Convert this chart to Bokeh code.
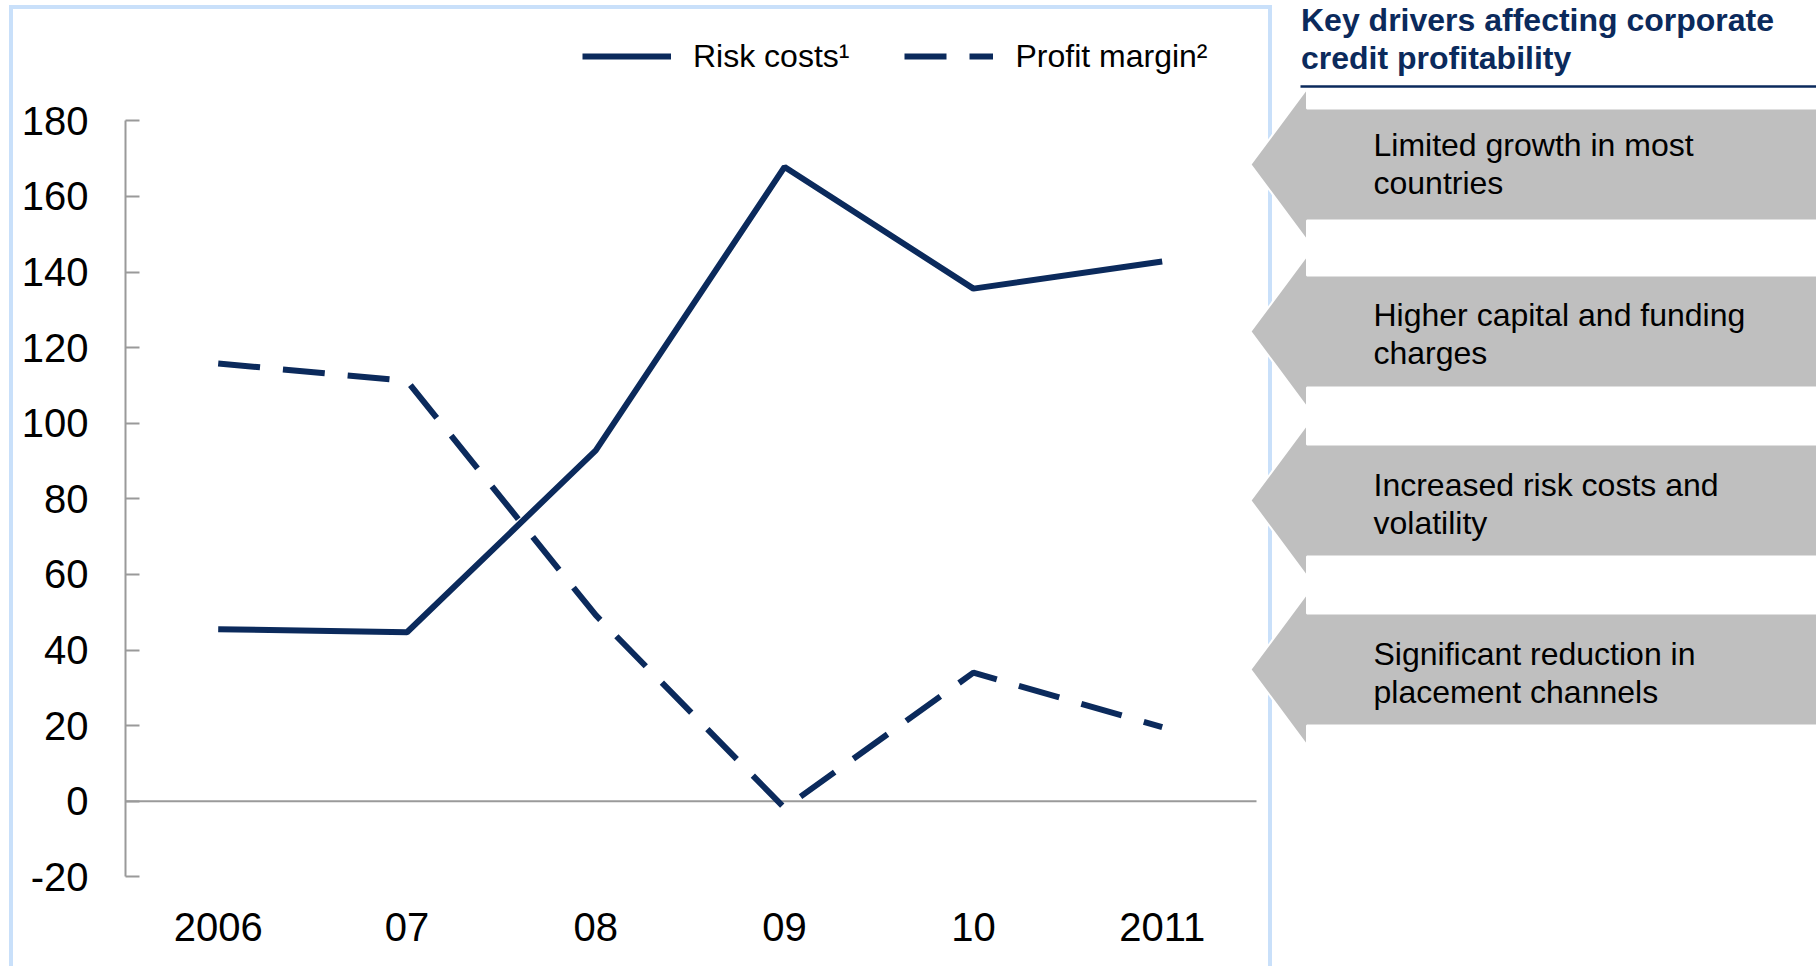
from bokeh.plotting import figure
from bokeh.models import Range1d, FixedTicker, Legend, LegendItem
from bokeh.embed import file_html
from bokeh.resources import INLINE
from bokeh.core.properties import value

# ---------------- data ----------------
years = ["2006", "07", "08", "09", "10", "2011"]
risk_costs = [45.5, 44.7, 92.8, 167.8, 135.6, 142.8]
profit_margin = [115.8, 111.2, 49.2, -1.8, 34.0, 19.6]
y_ticks = [-20, 0, 20, 40, 60, 80, 100, 120, 140, 160, 180]
series_names = ["Risk costs\u00b9", "Profit margin\u00b2"]
panel_title = ["Key drivers affecting corporate", "credit profitability"]
drivers = [
    ["Limited growth in most", "countries"],
    ["Higher capital and funding", "charges"],
    ["Increased risk costs and", "volatility"],
    ["Significant reduction in", "placement channels"],
]

# ---------------- layout / style constants ----------------
NAVY = "#0b2a5c"
AXIS_GRAY = "#9a9a9a"
BORDER_BLUE = "#c9e0fa"
ARROW_GRAY = "#bfbfbf"
FONT = "Liberation Sans"

W, H = 1816, 966
FL, FR, FT, FB = 125, 1816, 0, 888          # frame edges in canvas pixels
X0_PX, X_STEP = 217.7, 188.8                # pixel of first category, spacing
Y0_PX, Y_UNIT = 800.7, 3.78                 # pixel of value 0, pixels per unit
TXT_SHIFT = -13                             # baseline correction for text glyphs


def dx(px):
    return (px - X0_PX) / X_STEP


def dy(py):
    return (Y0_PX - py) / Y_UNIT


g = "linear-gradient(%s,%s)" % (BORDER_BLUE, BORDER_BLUE)
BORDER_CSS = (g + " 9px 5px / 4px 961px no-repeat, "
              + g + " 9px 5px / 1263px 4px no-repeat, "
              + g + " 1268px 5px / 4px 961px no-repeat, white")

p = figure(width=W, height=H, output_backend="svg", toolbar_location=None,
           x_range=Range1d(dx(FL), dx(FR)), y_range=Range1d(dy(FB), dy(FT)),
           min_border_left=FL, min_border_right=W - FR, min_border_top=FT,
           min_border_bottom=H - FB)
p.outline_line_color = None
p.grid.visible = False
p.background_fill_color = None
p.border_fill_color = None
p.styles = {"background": BORDER_CSS}

# x axis
xa = p.xaxis[0]
xa.ticker = FixedTicker(ticks=list(range(len(years))))
xa.major_label_overrides = {i: y for i, y in enumerate(years)}
xa.axis_line_color = None
xa.major_tick_line_color = None
xa.minor_tick_line_color = None
xa.major_label_text_font_size = "40px"
xa.major_label_text_font = FONT
xa.major_label_text_color = "black"
xa.major_label_standoff = 18

# y axis
ya = p.yaxis[0]
ya.ticker = FixedTicker(ticks=y_ticks)
ya.major_label_overrides = {t: str(t) for t in y_ticks}
ya.bounds = (min(y_ticks), max(y_ticks))
ya.axis_line_color = AXIS_GRAY
ya.axis_line_width = 2
ya.major_tick_in = 14
ya.major_tick_out = 0
ya.major_tick_line_color = AXIS_GRAY
ya.major_tick_line_width = 2
ya.minor_tick_line_color = None
ya.major_label_text_font_size = "40px"
ya.major_label_text_font = FONT
ya.major_label_text_color = "black"
ya.major_label_standoff = 37

# zero line
p.segment(x0=[dx(FL)], y0=[0], x1=[dx(1256)], y1=[0], line_color=AXIS_GRAY, line_width=2)

xs = list(range(len(years)))
r1 = p.line(xs, risk_costs, line_color=NAVY, line_width=6)
r2 = p.line(xs, profit_margin, line_color=NAVY, line_width=6, line_dash="42 23")

legend = Legend(items=[LegendItem(label=series_names[0], renderers=[r1]),
                       LegendItem(label=series_names[1], renderers=[r2])],
                orientation="horizontal", location=(457, FB - 76),
                glyph_width=89, glyph_height=40, label_height=40,
                label_standoff=22, spacing=55, padding=0, margin=0,
                border_line_color=None, background_fill_alpha=0,
                label_text_font_size="32px", label_text_font=FONT,
                label_text_color="black")
p.add_layout(legend)

# ---------------- right panel ----------------
p.text(x=[dx(1300.5)] * 2, y=[dy(32 + TXT_SHIFT), dy(70 + TXT_SHIFT)], text=panel_title,
       text_font=value(FONT), text_font_size="32px", text_font_style="bold",
       text_color=NAVY, text_baseline="alphabetic", text_align="left")
p.segment(x0=[dx(1300)], y0=[dy(86)], x1=[dx(1830)], y1=[dy(86)],
          line_color=NAVY, line_width=2.5)

centers = [164, 331, 500, 669]
text_base = [157, 327, 497, 666]
TIP, BASE, END, HB, HH = 1250, 1306.5, 1830, 56, 76
axs, ays = [], []
for c in centers:
    axs.append([dx(TIP), dx(BASE), dx(BASE), dx(END), dx(END), dx(BASE), dx(BASE)])
    ays.append([dy(c), dy(c - HH), dy(c - HB), dy(c - HB), dy(c + HB), dy(c + HB), dy(c + HH)])
p.patches(axs, ays, fill_color=ARROW_GRAY, line_color="white", line_width=2)

tx, ty, tt = [], [], []
for b, lines in zip(text_base, drivers):
    for k, t in enumerate(lines):
        tx.append(dx(1373))
        ty.append(dy(b + 38 * k + TXT_SHIFT))
        tt.append(t)
p.text(x=tx, y=ty, text=tt, text_font=value(FONT), text_font_size="32px",
       text_color="black", text_baseline="alphabetic", text_align="left")

open("out.html", "w").write(file_html(p, INLINE))
